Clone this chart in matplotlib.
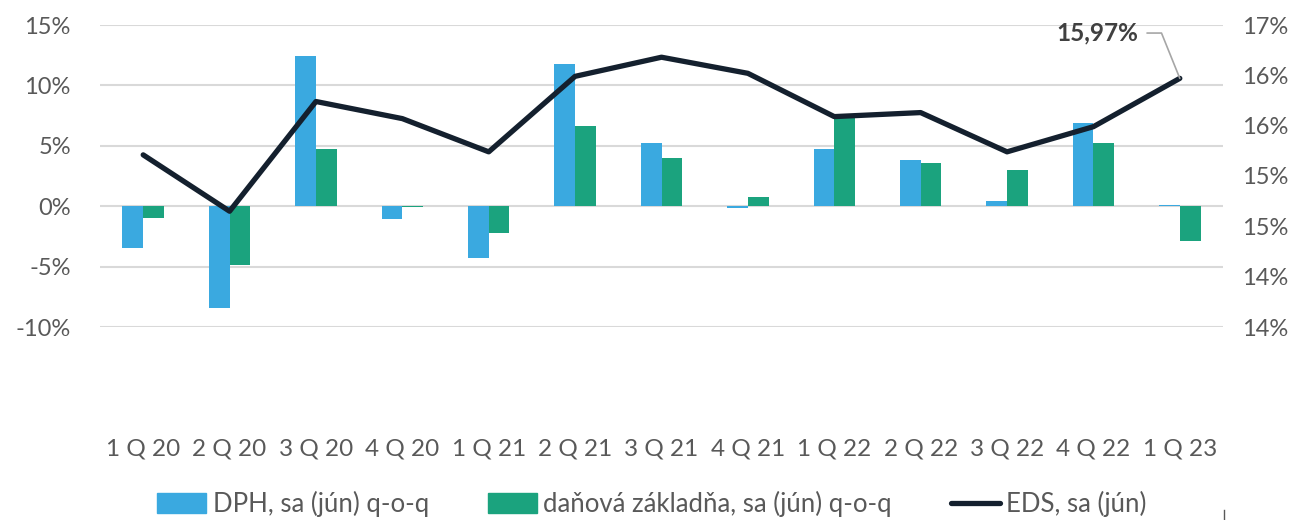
import math
import matplotlib
matplotlib.use("Agg")
import matplotlib.pyplot as plt
import numpy as np
from matplotlib.lines import Line2D

plt.rcParams['font.family'] = ['Lato', 'DejaVu Sans']

quarters = ["1 Q 20", "2 Q 20", "3 Q 20", "4 Q 20", "1 Q 21", "2 Q 21", "3 Q 21",
            "4 Q 21", "1 Q 22", "2 Q 22", "3 Q 22", "4 Q 22", "1 Q 23"]
dph = [-3.5, -8.4, 12.4, -1.1, -4.3, 11.8, 5.2, -0.15, 4.7, 3.8, 0.4, 6.9, 0.1]
zakladna = [-1.0, -4.9, 4.7, -0.05, -2.2, 6.6, 4.0, 0.8, 7.3, 3.6, 3.0, 5.2, -2.9]
eds = [15.21, 14.65, 15.74, 15.57, 15.24, 15.99, 16.18, 16.02, 15.59, 15.63, 15.24, 15.49, 15.97]

blue = "#3AA9E0"
green = "#1BA37E"
navy = "#14202E"
grey = "#595959"

fig = plt.figure(figsize=(13.04, 5.2), dpi=100)
ax = fig.add_axes([100 / 1304, 1 - 327 / 520, 1123 / 1304, 302 / 520])
ax2 = ax.twinx()

x = np.arange(len(quarters))
w = 0.24
ax.bar(x - w / 2, dph, w, color=blue, label="DPH, sa (jún) q-o-q", zorder=2)
ax.bar(x + w / 2, zakladna, w, color=green, label="daňová základňa, sa (jún) q-o-q", zorder=2)
ax.set_ylim(-10, 15)
ax.set_yticks([-10, -5, 0, 5, 10, 15])
ax.set_yticklabels([f"{v}%" for v in [-10, -5, 0, 5, 10, 15]])
ax.set_xlim(-0.5, len(quarters) - 0.5)
ax.set_xticks(x)
ax.set_xticklabels(quarters)
ax.grid(axis='y', color="#D9D9D9", linewidth=1.5, zorder=0)
ax.set_axisbelow(True)
for s in ax.spines.values():
    s.set_visible(False)
ax.tick_params(axis='x', length=0, pad=80, labelsize=17.5, labelcolor=grey)
ax.tick_params(axis='y', length=0, pad=21, labelsize=17, labelcolor=grey)

ax2.plot(x, eds, color=navy, linewidth=3.8, solid_capstyle='round', zorder=3,
         label="EDS, sa (jún)")
ax2.set_ylim(13.5, 16.5)
rt = np.arange(13.5, 16.51, 0.5)
ax2.set_yticks(rt)
ax2.set_yticklabels([f"{int(math.floor(v + 0.5))}%" for v in rt])
for s in ax2.spines.values():
    s.set_visible(False)
ax2.tick_params(axis='y', length=0, pad=14, labelsize=17, labelcolor=grey)

# label for last point
ax2.annotate("15,97%", xy=(x[-1], eds[-1]), xytext=(x[-1] - 0.95, 16.42),
             fontsize=17.5, color="#404040", fontweight='bold', ha='center', va='center',
             arrowprops=dict(arrowstyle='-', color="#A6A6A6", lw=1.2,
                             connectionstyle="angle,angleA=0,angleB=112,rad=0",
                             shrinkA=4, shrinkB=0))

handles = [plt.Rectangle((0, 0), 1, 1, color=blue),
           plt.Rectangle((0, 0), 1, 1, color=green),
           Line2D([0], [0], color=navy, linewidth=3.8, solid_capstyle='round')]
labels = ["DPH, sa (jún) q-o-q", "daňová základňa, sa (jún) q-o-q", "EDS, sa (jún)"]
fig.legend(handles, labels, loc='center', bbox_to_anchor=(0.5, 1 - 504 / 520), ncol=3,
           frameon=False, fontsize=18.5, labelcolor=grey, handlelength=1.9,
           handleheight=0.8, handletextpad=0.25, columnspacing=2.3)

fig.add_artist(Line2D([1224 / 1304, 1224 / 1304], [0, 10 / 520], color="#595959", lw=1))

fig.savefig("out.png", dpi=100)
